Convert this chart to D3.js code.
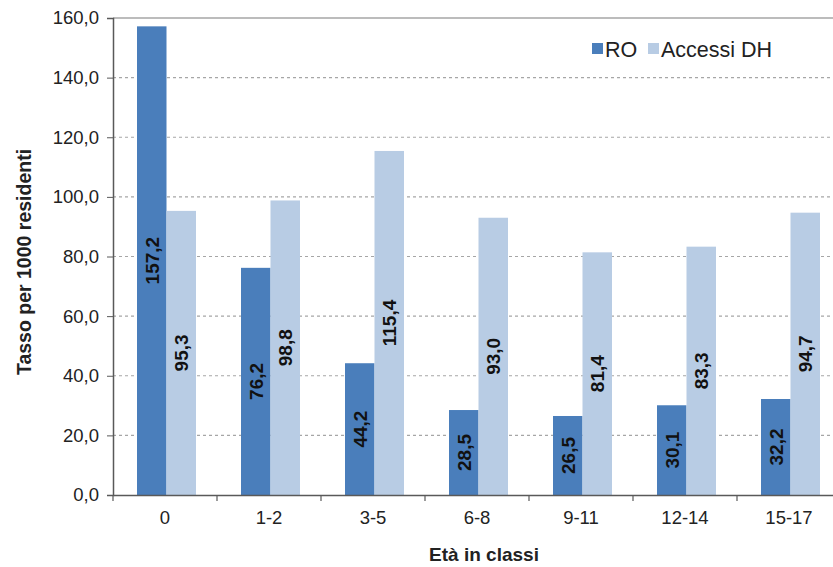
<!DOCTYPE html>
<html><head><meta charset="utf-8">
<script src="https://cdn.jsdelivr.net/npm/d3@7"></script>
<style>
html,body{margin:0;padding:0;background:#fff;}
svg{display:block;font-family:"Liberation Sans",Arial,sans-serif;}
</style></head>
<body>
<svg id="chart" width="833" height="567"></svg>
<script>
const categories = ["0","1-2","3-5","6-8","9-11","12-14","15-17"];
const seriesNames = ["RO","Accessi DH"];
const roValues = [157.2, 76.2, 44.2, 28.5, 26.5, 30.1, 32.2];
const dhValues = [95.3, 98.8, 115.4, 93.0, 81.4, 83.3, 94.7];
const yTicks = [0,20,40,60,80,100,120,140,160];
const colors = ["#4a7ebb","#b8cce4"];
const yTitle = "Tasso per 1000 residenti";
const xTitle = "Età in classi";

(function(){
const svg = d3.select("#chart");
const mLeft = 113, mTop = 18, mBottom = 495, bandW = 104;
const fmt = v => d3.format(".1f")(v).replace(".", ",");

const x = d3.scaleBand().domain(categories).range([mLeft, mLeft + bandW*categories.length]);
const x1 = d3.scaleBand().domain(seriesNames).range([24, 83]);
const y = d3.scaleLinear().domain([0,160]).range([mBottom, mTop]);

// gridlines
svg.append("g").selectAll("line").data(yTicks.filter(t => t>0 && t<160)).join("line")
  .attr("x1", mLeft).attr("x2", 833).attr("y1", d=>y(d)).attr("y2", d=>y(d))
  .attr("stroke","#a6a6a6").attr("stroke-width",1.2).attr("stroke-dasharray","3,3");
// top border
svg.append("line").attr("x1", mLeft).attr("x2", 833).attr("y1", y(160)).attr("y2", y(160))
  .attr("stroke","#a6a6a6").attr("stroke-width",1.5);

const data = categories.map((c,i)=>({cat:c, vals:[roValues[i], dhValues[i]]}));
const groups = svg.append("g").selectAll("g").data(data).join("g")
  .attr("transform", d=>`translate(${x(d.cat)},0)`);
groups.selectAll("rect").data(d=>d.vals.map((v,j)=>({s:seriesNames[j], v, j}))).join("rect")
  .attr("x", d=>x1(d.s)).attr("width", x1.bandwidth())
  .attr("y", d=>y(d.v)).attr("height", d=>mBottom - y(d.v))
  .attr("fill", d=>colors[d.j]);
groups.selectAll("text").data(d=>d.vals.map((v,j)=>({s:seriesNames[j], v, j}))).join("text")
  .attr("transform", d=>`translate(${x1(d.s)+x1.bandwidth()/2},${(y(d.v)+mBottom)/2}) rotate(-90)`)
  .attr("text-anchor","middle").attr("dy","0.36em")
  .attr("font-size","19px").attr("font-weight","bold").attr("fill","#111")
  .text(d=>fmt(d.v));

// y axis
const yAxis = svg.append("g").attr("transform",`translate(${mLeft},0)`)
  .call(d3.axisLeft(y).tickValues(yTicks).tickFormat(fmt).tickSize(6).tickPadding(8));
yAxis.select(".domain").attr("stroke","#595959").attr("stroke-width",1.5);
yAxis.selectAll(".tick line").attr("stroke","#595959");
yAxis.selectAll(".tick text").attr("font-size","18.5px").attr("fill","#222").attr("font-family","Liberation Sans, Arial, sans-serif");

// x axis
const xAxis = svg.append("g").attr("transform",`translate(0,${mBottom})`)
  .call(d3.axisBottom(x).tickSize(0).tickPadding(16));
xAxis.select(".domain").attr("stroke","#595959").attr("stroke-width",1.5);
xAxis.selectAll(".tick text").attr("font-size","18.5px").attr("fill","#222").attr("font-family","Liberation Sans, Arial, sans-serif");
svg.append("g").selectAll("line").data(categories.slice(1)).join("line")
  .attr("x1", d=>x(d)).attr("x2", d=>x(d)).attr("y1", mBottom).attr("y2", mBottom+6)
  .attr("stroke","#595959").attr("stroke-width",1.2);
svg.append("line").attr("x1", mLeft).attr("x2", mLeft).attr("y1", mBottom).attr("y2", mBottom+6)
  .attr("stroke","#595959").attr("stroke-width",1.2);

// titles
svg.append("text").attr("transform",`translate(31,262) rotate(-90)`)
  .attr("text-anchor","middle").attr("font-size","19.5px").attr("font-weight","bold").attr("fill","#222")
  .text(yTitle);
svg.append("text").attr("x", 484).attr("y", 561)
  .attr("text-anchor","middle").attr("font-size","19px").attr("font-weight","bold").attr("fill","#222")
  .text(xTitle);

// legend
const legend = svg.append("g");
const legX = [592, 648];
seriesNames.forEach((s,i)=>{
  legend.append("rect").attr("x", legX[i]).attr("y", 43).attr("width", 11).attr("height", 11).attr("fill", colors[i]);
  legend.append("text").attr("x", legX[i]+13).attr("y", 57).attr("font-size","21.5px").attr("fill","#222").text(s);
});
})();
</script>
</body></html>
